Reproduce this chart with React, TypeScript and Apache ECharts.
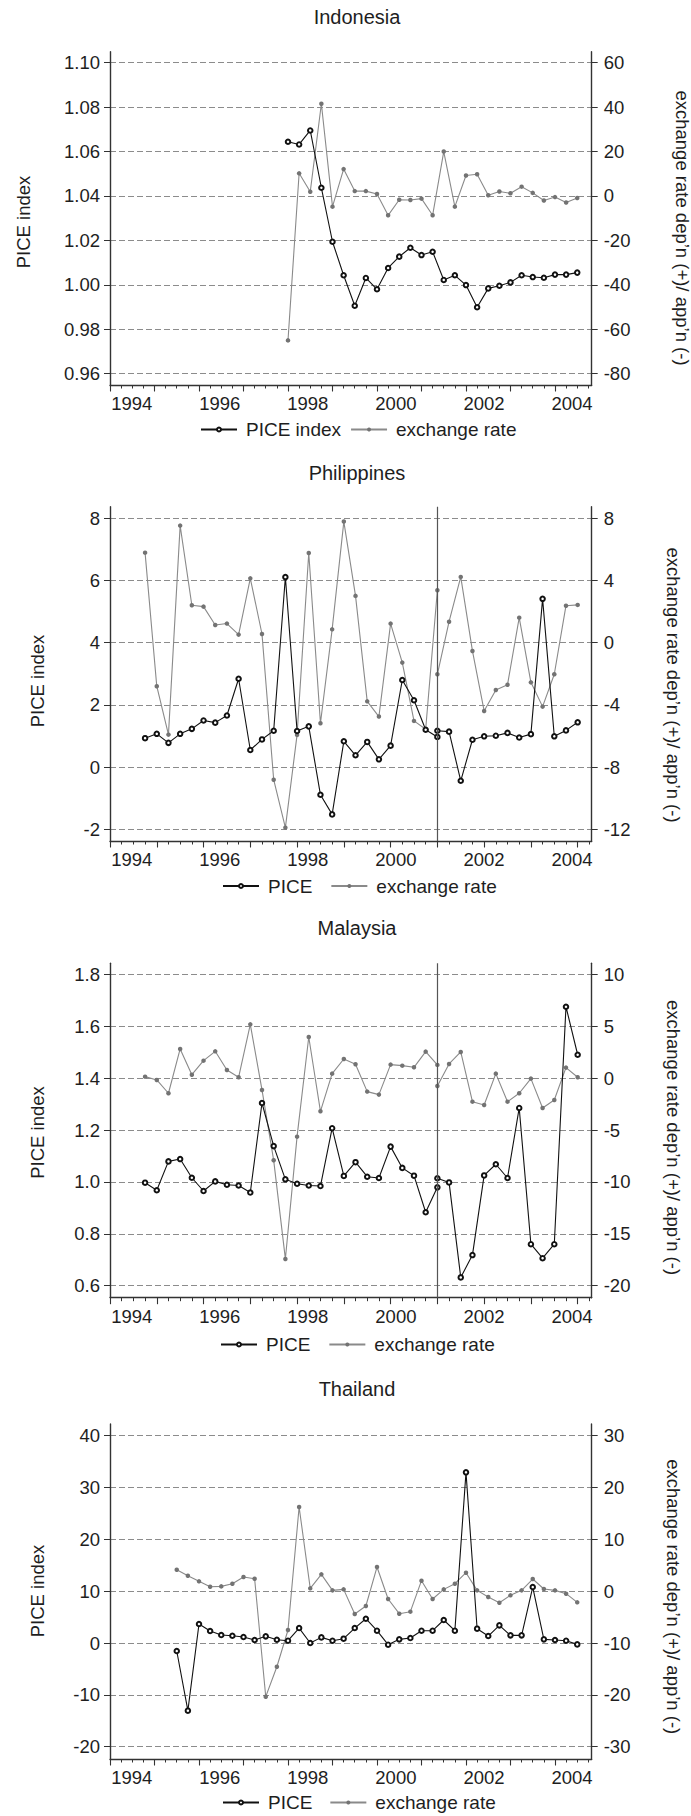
import React, { useEffect, useRef } from "react";
import * as echarts from "echarts";

// ---------------- Data (x = quarter index counted from 1994Q1 = 0) ----------------
const indonesiaStartQuarter = 16; // 1998Q1
const indonesiaPICE = [1.0644, 1.0632, 1.0695, 1.0437, 1.0194, 1.0043, 0.9906, 1.0031, 0.998, 1.0076, 1.0127, 1.0167, 1.0134, 1.0149, 1.0022, 1.0043, 0.9999, 0.9899, 0.9984, 0.9996, 1.0011, 1.0043, 1.0035, 1.0032, 1.0046, 1.0046, 1.0055];
const indonesiaExchange = [-65.0, 10.2, 1.9, 41.5, -4.8, 12.1, 2.2, 2.2, 0.9, -8.7, -1.7, -1.8, -1.2, -8.7, 20.0, -4.8, 9.2, 9.8, 0.3, 2.0, 1.2, 4.2, 1.4, -2.0, -0.5, -2.9, -0.9];

const philippinesStartQuarter = 3; // 1994Q4
const philippinesBreak = 25; // 2001Q1, offset from start
const philippinesPICE1 = [0.93, 1.07, 0.78, 1.07, 1.23, 1.5, 1.43, 1.66, 2.84, 0.55, 0.89, 1.17, 6.11, 1.16, 1.31, -0.89, -1.52, 0.83, 0.38, 0.81, 0.25, 0.69, 2.8, 2.15, 1.2, 0.97];
const philippinesPICE2 = [1.17, 1.14, -0.44, 0.88, 0.99, 1.01, 1.1, 0.95, 1.06, 5.41, 0.99, 1.18, 1.44];
const philippinesExchange1 = [5.79, -2.8, -5.91, 7.53, 2.41, 2.32, 1.14, 1.23, 0.52, 4.14, 0.56, -8.81, -11.89, -5.93, 5.77, -5.18, 0.86, 7.79, 3.01, -3.77, -4.75, 1.23, -1.28, -5.03, -5.57, 3.37];
const philippinesExchange2 = [-2.03, 1.35, 4.23, -0.53, -4.39, -3.04, -2.7, 1.61, -2.55, -4.11, -2.03, 2.38, 2.43];

const malaysiaStartQuarter = 3; // 1994Q4
const malaysiaBreak = 25; // 2001Q1, offset from start
const malaysiaPICE1 = [0.997, 0.968, 1.079, 1.088, 1.016, 0.965, 1.002, 0.989, 0.986, 0.959, 1.304, 1.138, 1.01, 0.993, 0.986, 0.984, 1.207, 1.023, 1.076, 1.02, 1.015, 1.136, 1.054, 1.024, 0.883, 0.979];
const malaysiaPICE2 = [1.014, 0.998, 0.632, 0.718, 1.025, 1.068, 1.015, 1.285, 0.76, 0.706, 0.76, 1.675, 1.49];
const malaysiaExchange1 = [0.14, -0.18, -1.46, 2.81, 0.33, 1.68, 2.58, 0.78, 0.08, 5.18, -1.14, -7.92, -17.42, -5.64, 3.96, -3.2, 0.43, 1.84, 1.33, -1.3, -1.59, 1.3, 1.2, 1.04, 2.55, 1.27];
const malaysiaExchange2 = [-0.76, 1.36, 2.52, -2.27, -2.59, 0.43, -2.27, -1.46, -0.05, -2.88, -2.11, 1.01, 0.08];

const thailandStartQuarter = 6; // 1995Q3
const thailandPICE = [-1.54, -13.05, 3.67, 2.32, 1.54, 1.41, 1.16, 0.58, 1.29, 0.64, 0.45, 2.89, 0.0, 1.09, 0.45, 0.84, 2.89, 4.69, 2.38, -0.32, 0.71, 0.96, 2.38, 2.38, 4.44, 2.38, 32.93, 2.77, 1.35, 3.41, 1.48, 1.48, 10.8, 0.71, 0.58, 0.45, -0.26];
const thailandExchange = [4.15, 2.99, 1.9, 0.87, 0.93, 1.45, 2.73, 2.41, -20.35, -14.57, -7.49, 16.24, 0.55, 3.25, 0.16, 0.35, -4.41, -2.86, 4.66, -1.51, -4.34, -3.95, 2.03, -1.51, 0.35, 1.45, 3.57, 0.16, -1.13, -2.22, -0.8, 0.16, 2.35, 0.42, 0.16, -0.48, -2.15];

// ---------------- Tick labels ----------------
const yearLabels = [1994, 1996, 1998, 2000, 2002, 2004];
const indonesiaLeftTicks = [0.96, 0.98, 1.0, 1.02, 1.04, 1.06, 1.08, 1.1];
const indonesiaRightTicks = [-80, -60, -40, -20, 0, 20, 40, 60];
const philippinesLeftTicks = [-2, 0, 2, 4, 6, 8];
const philippinesRightTicks = [-12, -8, -4, 0, 4, 8];
const malaysiaLeftTicks = [0.6, 0.8, 1.0, 1.2, 1.4, 1.6, 1.8];
const malaysiaRightTicks = [-20, -15, -10, -5, 0, 5, 10];
const thailandLeftTicks = [-20, -10, 0, 10, 20, 30, 40];
const thailandRightTicks = [-30, -20, -10, 0, 10, 20, 30];

const leftTitle = "PICE index";
const rightTitle = "exchange rate dep\u2019n (+)/ app\u2019n (-)";
const exchangeName = "exchange rate";

// ---------------- Helpers ----------------
const toPairs = (start: number, vals: number[]) => vals.map((v, i) => [start + i, v]);
const toBrokenPairs = (start: number, brk: number, a: number[], b: number[]) => [
  ...a.map((v, i) => [start + i, v]),
  [start + brk, "-"],
  ...b.map((v, i) => [start + brk + i, v]),
];

const FONT = '"Liberation Sans", Arial, Helvetica, sans-serif';
const AXIS_COLOR = "#333333";
const TEXT_COLOR = "#1e1e1e";
const GRID_LEFT = 110;
const GRID_WIDTH = 481.7;
const LABEL_MIN = 1993.507;
const LABEL_MAX = 2004.447;

const panels = [
  {
    title: "Indonesia", titleY: 16.5, top: 51.7, bottom: 385,
    yl: [0.954913, 1.104952], yr: [-85.087, 64.952], leftTicks: indonesiaLeftTicks, rightTicks: indonesiaRightTicks, dec: 2,
    xMax: 43.3, piceName: "PICE index",
    pice: toPairs(indonesiaStartQuarter, indonesiaPICE), exch: toPairs(indonesiaStartQuarter, indonesiaExchange), breakQ: null as number | null,
    legendLeft: 200, legendTop: 420, legendGap: 9, lName: [23, 222], rName: [682, 228],
  },
  {
    title: "Philippines", titleY: 473, top: 506.7, bottom: 841,
    yl: [-2.376, 8.373], yr: [-12.752, 8.746], leftTicks: philippinesLeftTicks, rightTicks: philippinesRightTicks, dec: 0,
    xMax: 41.2, piceName: "PICE",
    pice: toBrokenPairs(philippinesStartQuarter, philippinesBreak, philippinesPICE1, philippinesPICE2),
    exch: toBrokenPairs(philippinesStartQuarter, philippinesBreak, philippinesExchange1, philippinesExchange2),
    breakQ: philippinesStartQuarter + philippinesBreak,
    legendLeft: 222, legendTop: 876.5, legendGap: 18, lName: [37, 681], rName: [673, 685],
  },
  {
    title: "Malaysia", titleY: 928.3, top: 963.3, bottom: 1297.7,
    yl: [0.5538, 1.8424], yr: [-21.155, 11.06], leftTicks: malaysiaLeftTicks, rightTicks: malaysiaRightTicks, dec: 1,
    xMax: 41.2, piceName: "PICE",
    pice: toBrokenPairs(malaysiaStartQuarter, malaysiaBreak, malaysiaPICE1, malaysiaPICE2),
    exch: toBrokenPairs(malaysiaStartQuarter, malaysiaBreak, malaysiaExchange1, malaysiaExchange2),
    breakQ: malaysiaStartQuarter + malaysiaBreak,
    legendLeft: 220, legendTop: 1335, legendGap: 18, lName: [37, 1132.5], rName: [673, 1137.5],
  },
  {
    title: "Thailand", titleY: 1389.3, top: 1424, bottom: 1759,
    yl: [-22.373, 42.257], yr: [-32.373, 32.257], leftTicks: thailandLeftTicks, rightTicks: thailandRightTicks, dec: 0,
    xMax: 43.3, piceName: "PICE",
    pice: toPairs(thailandStartQuarter, thailandPICE), exch: toPairs(thailandStartQuarter, thailandExchange), breakQ: null as number | null,
    legendLeft: 222, legendTop: 1793, legendGap: 17, lName: [37, 1591], rName: [673, 1596.7],
  },
];

const intsUpTo = (n: number) => Array.from({ length: Math.floor(n) + 1 }, (_, i) => i);

function buildOption() {
  const grid: any[] = [];
  const xAxis: any[] = [];
  const yAxis: any[] = [];
  const series: any[] = [];
  const legend: any[] = [];
  const graphic: any[] = [];
  const labelStyle = { fontSize: 18.5, color: TEXT_COLOR, fontFamily: FONT };

  panels.forEach((p, gi) => {
    grid.push({ left: GRID_LEFT, width: GRID_WIDTH, top: p.top, height: p.bottom - p.top, containLabel: false });
    const quarterTicks = intsUpTo(p.xMax);
    const yearTicks = quarterTicks.filter((q) => q % 4 === 0);
    const xi = xAxis.length;
    xAxis.push({
      type: "value", gridIndex: gi, position: "bottom", min: 0, max: p.xMax,
      axisLine: { show: true, onZero: false, lineStyle: { color: AXIS_COLOR, width: 1.4 } },
      axisTick: { show: true, length: 3.5, customValues: quarterTicks, lineStyle: { color: AXIS_COLOR, width: 1 } },
      axisLabel: { show: false }, splitLine: { show: false },
    });
    xAxis.push({
      type: "value", gridIndex: gi, position: "bottom", min: 0, max: p.xMax,
      axisLine: { show: false, onZero: false },
      axisTick: { show: true, length: 6.5, customValues: yearTicks, lineStyle: { color: AXIS_COLOR, width: 1.1 } },
      axisLabel: { show: false }, splitLine: { show: false },
    });
    xAxis.push({
      type: "value", gridIndex: gi, position: "bottom", min: LABEL_MIN, max: LABEL_MAX,
      axisLine: { show: false, onZero: false }, axisTick: { show: false },
      axisLabel: { show: true, customValues: yearLabels, formatter: (v: number) => String(Math.round(v)), margin: 9, ...labelStyle },
      splitLine: { show: false },
    });
    const yi = yAxis.length;
    yAxis.push({
      type: "value", gridIndex: gi, position: "left", min: p.yl[0], max: p.yl[1],
      axisLine: { show: true, onZero: false, lineStyle: { color: AXIS_COLOR, width: 1.4 } },
      axisTick: { show: true, length: 6, customValues: p.leftTicks, lineStyle: { color: AXIS_COLOR, width: 1 } },
      axisLabel: { show: true, customValues: p.leftTicks, formatter: (v: number) => v.toFixed(p.dec), margin: 10, ...labelStyle },
      splitLine: { show: true, lineStyle: { type: [6, 3], color: "#8c8c8c", width: 1 } },
    });
    yAxis.push({
      type: "value", gridIndex: gi, position: "right", min: p.yr[0], max: p.yr[1],
      axisLine: { show: true, onZero: false, lineStyle: { color: AXIS_COLOR, width: 1.4 } },
      axisTick: { show: true, length: 6, customValues: p.rightTicks, lineStyle: { color: AXIS_COLOR, width: 1 } },
      axisLabel: { show: true, customValues: p.rightTicks, formatter: (v: number) => String(Math.round(v)), margin: 12, ...labelStyle },
      splitLine: { show: false },
    });

    series.push({
      name: p.piceName, type: "line", xAxisIndex: xi, yAxisIndex: yi, data: p.pice,
      symbol: "emptyCircle", symbolSize: 4.5, showSymbol: true, showAllSymbol: true, connectNulls: false,
      color: "#111111",
      itemStyle: { color: "#111111", borderWidth: 1 },
      lineStyle: { color: "#111111", width: 1.1 },
      emphasis: { disabled: true }, z: 3,
      markLine: p.breakQ != null ? {
        silent: true, symbol: ["none", "none"], label: { show: false },
        lineStyle: { color: "#555555", width: 1.2, type: "solid" },
        data: [{ xAxis: p.breakQ }],
      } : undefined,
    });
    series.push({
      name: exchangeName, type: "line", xAxisIndex: xi, yAxisIndex: yi + 1, data: p.exch,
      symbol: "circle", symbolSize: 4.5, showSymbol: true, showAllSymbol: true, connectNulls: false,
      color: "#737373",
      itemStyle: { color: "#737373" },
      lineStyle: { color: "#8a8a8a", width: 1.1 },
      emphasis: { disabled: true }, z: 2,
    });

    legend.push({
      left: p.legendLeft, top: p.legendTop, orient: "horizontal", padding: 0,
      itemWidth: 36, itemHeight: 5, itemGap: p.legendGap, selectedMode: false,
      data: [p.piceName, exchangeName],
      textStyle: { fontSize: 19, color: TEXT_COLOR, fontFamily: FONT, padding: [0, 0, 0, 4] },
    });

    graphic.push({
      type: "text", x: 357, y: p.titleY, silent: true,
      style: { text: p.title, fontSize: 20, fill: TEXT_COLOR, fontFamily: FONT, align: "center", verticalAlign: "middle", textAlign: "center", textVerticalAlign: "middle" },
    });
    graphic.push({
      type: "text", x: p.lName[0], y: p.lName[1], rotation: Math.PI / 2, silent: true,
      style: { text: leftTitle, fontSize: 18.5, fill: TEXT_COLOR, fontFamily: FONT, align: "center", verticalAlign: "middle", textAlign: "center", textVerticalAlign: "middle" },
    });
    graphic.push({
      type: "text", x: p.rName[0], y: p.rName[1], rotation: -Math.PI / 2, silent: true,
      style: { text: rightTitle, fontSize: 18.5, fill: TEXT_COLOR, fontFamily: FONT, align: "center", verticalAlign: "middle", textAlign: "center", textVerticalAlign: "middle" },
    });
  });

  return {
    animation: false,
    backgroundColor: "#ffffff",
    textStyle: { fontFamily: FONT },
    grid, xAxis, yAxis, series, legend, graphic,
  };
}

export default function App() {
  const ref = useRef<HTMLDivElement>(null);
  useEffect(() => {
    document.body.style.margin = "0";
    if (!ref.current) return;
    const chart = echarts.init(ref.current, undefined, { renderer: "svg" });
    chart.setOption(buildOption() as any);
    return () => chart.dispose();
  }, []);
  return <div ref={ref} style={{ width: 691, height: 1816 }} />;
}
